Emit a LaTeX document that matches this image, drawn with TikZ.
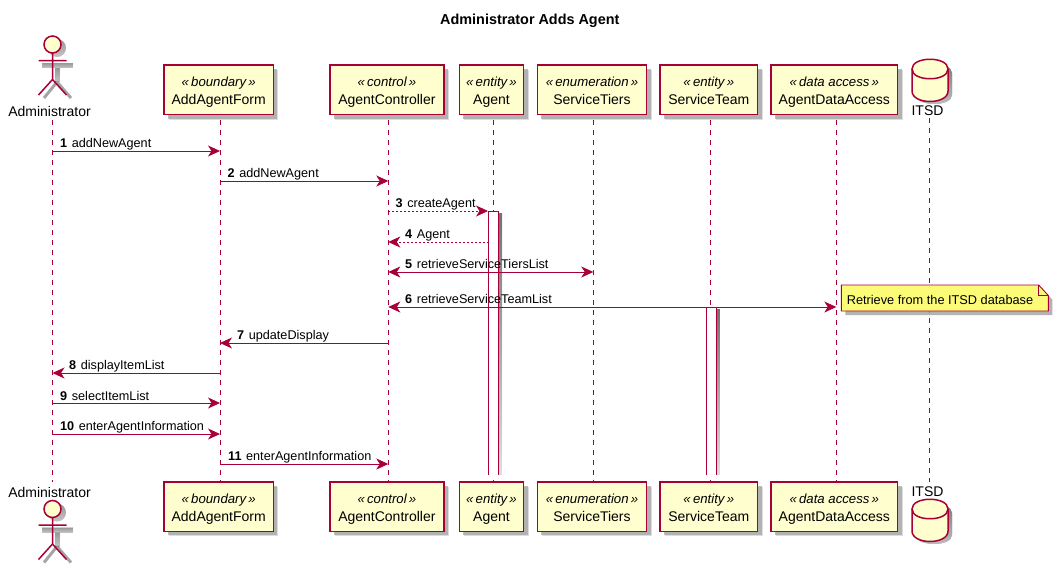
\documentclass[tikz,border=0pt]{standalone}
\usepackage{fontspec}
\setmainfont{Liberation Sans}
\usetikzlibrary{arrows.meta,shadows,calc}
\definecolor{plum}{HTML}{A80036}
\definecolor{boxfill}{HTML}{FEFECE}
\definecolor{notefill}{HTML}{FBFB77}
\definecolor{shade}{HTML}{A0A0A0}
\tikzset{
 x=1pt,y=-1pt,
 softshadow/.style={drop shadow={shadow xshift=5pt,shadow yshift=-5pt,fill=shade,opacity=.35},drop shadow={shadow xshift=4pt,shadow yshift=-4pt,fill=shade,opacity=.7}},
 partbox/.style={draw=plum,fill=boxfill,line width=1.5pt,minimum height=49.5pt,inner sep=0pt,align=center,softshadow,font=\fontsize{14}{18}\selectfont},
 lifeline/.style={draw=plum,line width=.9pt,dash pattern=on 5pt off 5pt},
 msg/.style={draw=plum,line width=.9pt,-{Stealth[length=12pt,width=11pt,inset=3.5pt]}},
 dmsg/.style={msg,dash pattern=on 2pt off 2pt},
 bimsg/.style={draw=plum,line width=.9pt,{Stealth[length=12pt,width=11pt,inset=3.5pt]}-{Stealth[length=12pt,width=11pt,inset=3.5pt]}},
 msglabel/.style={inner sep=0pt,anchor=base west,font=\fontsize{12.65}{15}\selectfont},
 actor/.style={draw=plum,line width=1.5pt},
 actext/.style={inner sep=0pt,font=\fontsize{14}{17}\selectfont},
 barline/.style={draw=plum,line width=.9pt},
}
\newcommand{\st}[1]{{\itshape\fontsize{13.2}{18}\selectfont\rule{0pt}{15pt}«\,#1\,»\rule[-4pt]{0pt}{4pt}}\\}
\newcommand{\nm}[1]{\rule{0pt}{13pt}#1\rule[-4pt]{0pt}{4pt}}
\newcommand{\partic}[4]{% name, cx, width, stereotype+label
 \node[partbox,minimum width=#3pt] (#1t) at (#2,89.8) {#4};
 \node[partbox,minimum width=#3pt] (#1b) at (#2,506.7) {#4};
}
\newcommand{\stickman}[1]{% top of head y
 \fill[shade,opacity=.35] (57,#1+12) circle (9);
 \fill[shade,opacity=.35] (42,#1+27) rectangle (73,#1+32);
 \fill[shade,opacity=.35] (55,#1+32) rectangle (60,#1+46);
 \draw[shade,opacity=.35,line width=3pt] (57,#1+46) -- (44,#1+62) (57,#1+46) -- (71,#1+62);
 \draw[actor,fill=boxfill] (52.5,#1+8.5) circle (8.5);
 \draw[actor] (52.5,#1+17) -- (52.5,#1+43.5) (38.5,#1+24.5) -- (66.5,#1+24.5) (52.5,#1+43.5) -- (38.5,#1+59) (52.5,#1+43.5) -- (66.5,#1+59);
}
\newcommand{\dbcyl}[1]{% top y
 \fill[shade,opacity=.6] (916,#1+14) -- (916,#1+36) .. controls (916,#1+48) and (952,#1+48) .. (952,#1+36) -- (952,#1+14) .. controls (952,#1+2) and (916,#1+2) .. (916,#1+14) -- cycle;
 \draw[actor,fill=boxfill] (912,#1+10) .. controls (912,#1-3) and (948,#1-3) .. (948,#1+10) -- (948,#1+32) .. controls (948,#1+46) and (912,#1+46) .. (912,#1+32) -- cycle;
 \draw[actor] (912,#1+10) .. controls (912,#1+23) and (948,#1+23) .. (948,#1+10);
}
\newcommand{\actbar}[3]{% left x, top y, bottom y
 \fill[shade,opacity=.85] (#1+10,#2+2) rectangle (#1+13.5,#3);
 \fill[white] (#1,#2) rectangle (#1+10,#3);
 \draw[barline] (#1,#3) -- (#1,#2) -- (#1+10,#2) -- (#1+10,#3);
}
\begin{document}
\begin{tikzpicture}
\useasboundingbox (0,0) rectangle (1059,570);
\node[inner sep=0pt,font=\bfseries\fontsize{14.4}{17}\selectfont,yshift=-0.5pt] (title) at (529.8,20) {Administrator Adds Agent};
\coordinate (admint) at (52.5,120);
\coordinate (adminb) at (52.5,482);
\coordinate (itsdt) at (929.3,118);
\coordinate (itsdb) at (929.3,482);
\node[actext] (adminlabtop) at (49.5,111) {Administrator};
\node[actext] (adminlabbot) at (49.5,492) {Administrator};
\node[actext] (itsdlabtop) at (927.5,111) {ITSD};
\node[actext] (itsdlabbot) at (927.5,492) {ITSD};
\coordinate (Lf) at (220,0);
\coordinate (Lc) at (388.3,0);
\coordinate (La) at (493.3,0);
\coordinate (Ls) at (593.3,0);
\coordinate (Lt) at (710.3,0);
\coordinate (Ld) at (836.3,0);
\partic{form}{218.7}{109.3}{\st{boundary}\nm{AddAgentForm}}
\partic{ctrl}{386.9}{113.7}{\st{control}\nm{AgentController}}
\partic{agent}{491.5}{64.4}{\st{entity}\nm{Agent}}
\partic{tiers}{592}{109.4}{\st{enumeration}\nm{ServiceTiers}}
\partic{team}{708.8}{97.7}{\st{entity}\nm{ServiceTeam}}
\partic{data}{834.3}{126.7}{\st{data access}\nm{AgentDataAccess}}
\stickman{36}
\stickman{500.5}
\dbcyl{59}
\dbcyl{499}
\draw[lifeline] (admint) -- (adminb);
\draw[lifeline] (Lf |- formt.south) ++(0,5) -- (Lf |- formb.north);
\draw[lifeline] (Lc |- ctrlt.south) ++(0,5) -- (Lc |- ctrlb.north);
\draw[lifeline] (La |- agentt.south) ++(0,5) -- (La |- agentb.north);
\draw[lifeline] (Ls |- tierst.south) ++(0,5) -- (Ls |- tiersb.north);
\draw[lifeline] (Lt |- teamt.south) ++(0,5) -- (Lt |- teamb.north);
\draw[lifeline] (Ld |- datat.south) ++(0,5) -- (Ld |- datab.north);
\draw[lifeline] (itsdt) -- (itsdb);
\actbar{488.5}{211}{475}
\actbar{706.3}{307}{475}
\newcommand{\ml}[4]{\node[msglabel] (n#1) at (#2,#3) {\textbf{#1}\hspace{4.6pt}#4};}
\ml{1}{60}{147}{addNewAgent}
\ml{2}{227.5}{177}{addNewAgent}
\ml{3}{395.5}{207}{createAgent}
\ml{4}{405}{238}{Agent}
\ml{5}{405}{268}{retrieveServiceTiersList}
\ml{6}{405}{303}{retrieveServiceTeamList}
\ml{7}{237}{339}{updateDisplay}
\ml{8}{69}{369}{displayItemList}
\ml{9}{60}{400}{selectItemList}
\ml{10}{60}{430}{enterAgentInformation}
\ml{11}{228}{460}{enterAgentInformation}
\draw[msg] (admint |- 0,151) -- (Lf |- 0,151);
\draw[msg] (Lf |- 0,181) -- (Lc |- 0,181);
\draw[dmsg] (Lc |- 0,211) -- (488,211);
\draw[dmsg] (488.5,242) -- (Lc |- 0,242);
\draw[bimsg] (Lc |- 0,272) -- (Ls |- 0,272);
\draw[bimsg] (Lc |- 0,307) -- (Ld |- 0,307);
\draw[msg] (Lc |- 0,343) -- (Lf |- 0,343);
\draw[msg] (Lf |- 0,373) -- (admint |- 0,373);
\draw[msg] (admint |- 0,403) -- (Lf |- 0,403);
\draw[msg] (admint |- 0,434) -- (Lf |- 0,434);
\draw[msg] (Lf |- 0,464) -- (Lc |- 0,464);
\draw[draw=plum,fill=notefill,line width=.9pt,drop shadow={shadow xshift=4pt,shadow yshift=-4pt,fill=shade,opacity=.8}] (841.3,285) -- (1038.7,285) -- (1048.3,295.5) -- (1048.3,311) -- (841.3,311) -- cycle;
\draw[draw=plum,line width=.9pt] (1038.7,285) -- (1038.7,295.5) -- (1048.3,295.5);
\node[inner sep=0pt,font=\fontsize{12.75}{15}\selectfont] (note) at (940,299.5) {Retrieve from the ITSD database};
\end{tikzpicture}
\end{document}
